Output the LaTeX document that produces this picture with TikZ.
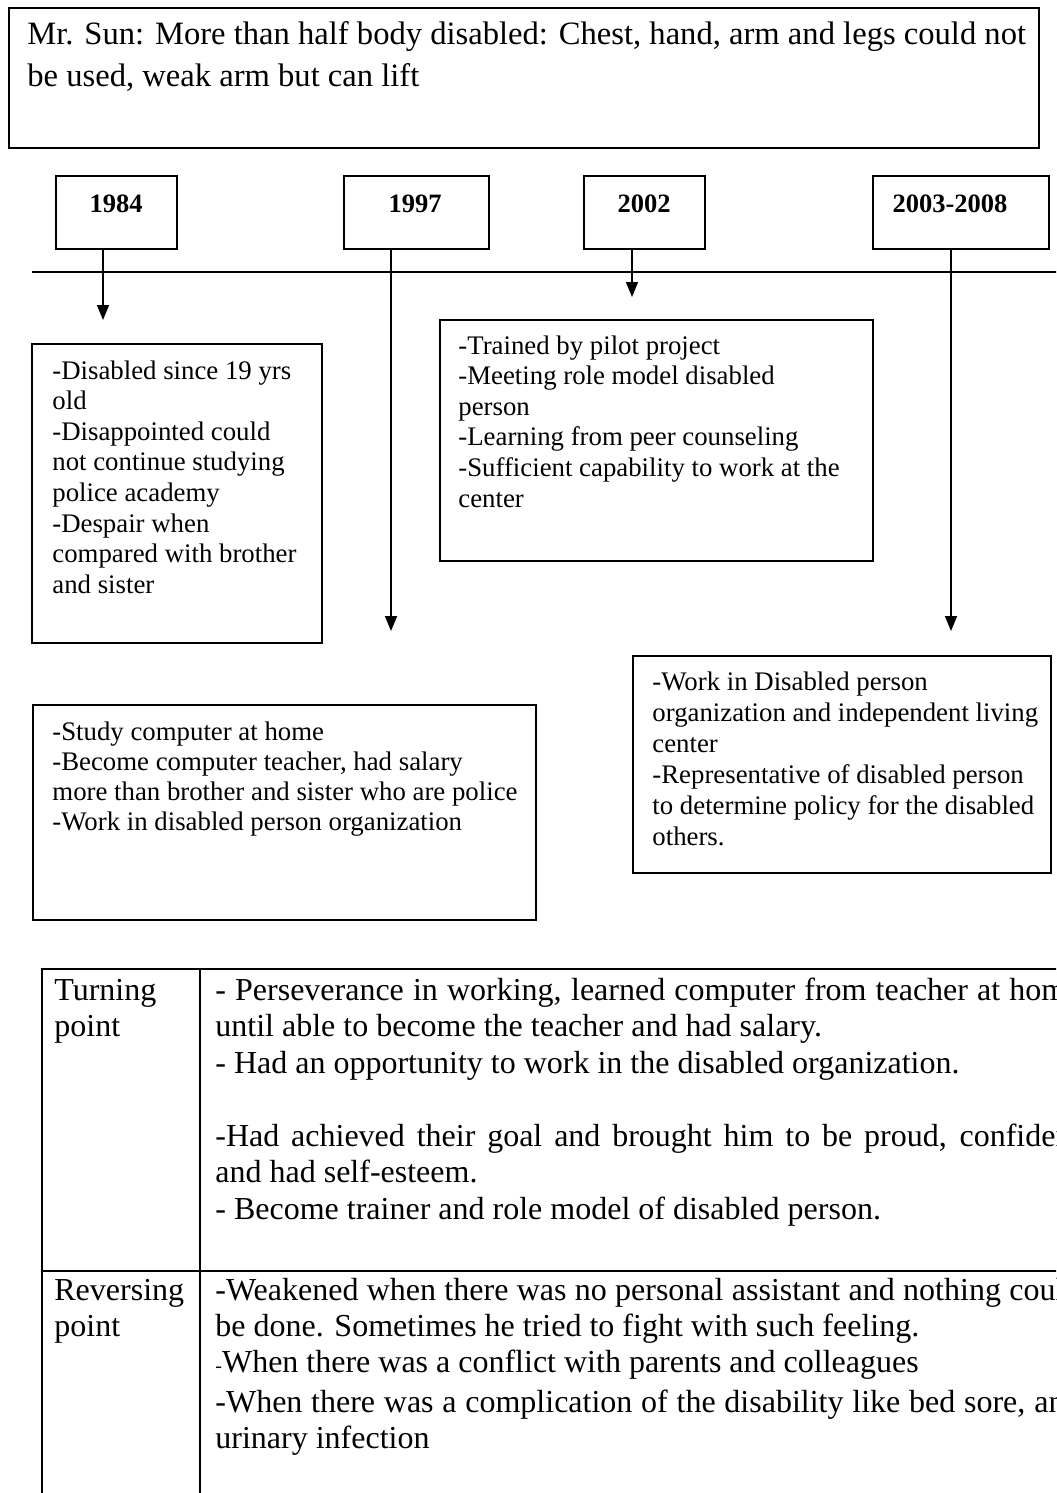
\documentclass[tikz,border=0pt]{standalone}
\usepackage{fontspec}
\setmainfont{Liberation Serif}
\usetikzlibrary{arrows.meta}

\newcommand\headfont{\fontsize{16.3pt}{19.5pt}\selectfont}
\newcommand\notefont{\fontsize{13.4pt}{15.3pt}\selectfont}
\newcommand\cellfont{\fontsize{16pt}{18.3pt}\selectfont}
\newcommand\yearfont{\bfseries\fontsize{13.25pt}{15pt}\selectfont}
% a justified line of the right table column
\newcommand\fullline[1]{\hbox to 432.5pt{#1}}

\tikzset{
  frame/.style={draw, line width=0.8pt, inner sep=0pt, anchor=north west},
  pointer/.style={line width=0.8pt, -{Triangle[length=7.5pt,width=6pt]}},
  axis/.style={line width=0.8pt},
  grid/.style={line width=1pt},
  headline/.style={font=\headfont, anchor=base west, inner sep=0pt},
  noteline/.style={font=\notefont, anchor=base west, inner sep=0pt},
  cellline/.style={font=\cellfont, anchor=base west, inner sep=0pt},
  yearlabel/.style={font=\yearfont, anchor=base, inner sep=0pt},
}

\begin{document}
\begin{tikzpicture}[x=0.5pt,y=-0.5pt]
\useasboundingbox (0,0) rectangle (1056,1493);
\clip (0,0) rectangle (1056,1493);

% ---------- header ----------
\node[frame, minimum width=515pt, minimum height=70pt] (head) at (8,7) {};
\node[headline] (head-1) at (27,45) {Mr. Sun: More than half body disabled: Chest, hand, arm and legs could not};
\node[headline] (head-2) at (27,87) {be used, weak arm but can lift};

% ---------- year boxes ----------
\node[frame, minimum width=60.5pt, minimum height=36.5pt] (y84) at (55,175) {};
\node[frame, minimum width=72.5pt, minimum height=36.5pt] (y97) at (343,175) {};
\node[frame, minimum width=60.5pt, minimum height=36.5pt] (y02) at (583,175) {};
\node[frame, minimum width=88pt,   minimum height=36.5pt] (y03) at (872,175) {};
\node[yearlabel] (y84-t) at (116,212) {1984};
\node[yearlabel] (y97-t) at (415,212) {1997};
\node[yearlabel] (y02-t) at (644,212) {2002};
\node[yearlabel] (y03-t) at (950,212) {2003-2008};

% ---------- time axis ----------
\coordinate (axisL) at (32,272);
\coordinate (axisR) at (1060,272);
\draw[axis] (axisL) -- (axisR);

% ---------- pointers ----------
\coordinate (tip84) at (103,320);
\coordinate (tip97) at (391,631);
\coordinate (tip02) at (632,297);
\coordinate (tip03) at (951,631);
\draw[pointer] (tip84 |- y84.south) -- (tip84);
\draw[pointer] (tip97 |- y97.south) -- (tip97);
\draw[pointer] (tip02 |- y02.south) -- (tip02);
\draw[pointer] (tip03 |- y03.south) -- (tip03);

% ---------- event notes ----------
\node[frame, minimum width=145pt, minimum height=149.5pt] (b84) at (31,343) {};
\foreach \t [count=\i from 0] in {{-Disabled since 19 yrs},{old},{-Disappointed could},
  {not continue studying},{police academy},{-Despair when},{compared with brother},{and sister}}
  \node[noteline] (b84-\i) at (52,379+30.6*\i) {\t};

\node[frame, minimum width=216.5pt, minimum height=120.5pt] (b02) at (439,319) {};
\foreach \t [count=\i from 0] in {{-Trained by pilot project},{-Meeting role model disabled},
  {person},{-Learning from peer counseling},{-Sufficient capability to work at the},{center}}
  \node[noteline] (b02-\i) at (458,354+30.6*\i) {\t};

\node[frame, minimum width=251.5pt, minimum height=107.5pt] (b97) at (32,704) {};
\foreach \t [count=\i from 0] in {{-Study computer at home},{-Become computer teacher, had salary},
  {more than brother and sister who are police},{-Work in disabled person organization}}
  \node[noteline] (b97-\i) at (52,740+30.3*\i) {\t};

\node[frame, minimum width=209pt, minimum height=108.5pt] (b03) at (632,655) {};
\foreach \t [count=\i from 0] in {{-Work in Disabled person},{organization and independent living},
  {center},{-Representative of disabled person},{to determine policy for the disabled},{others.}}
  \node[noteline] (b03-\i) at (652,690+31*\i) {\t};

% ---------- turning / reversing table ----------
\coordinate (tabNW) at (42,969);
\coordinate (tabNE) at (1060,969);
\coordinate (tabSW) at (42,1500);
\coordinate (colN) at (200,969);
\coordinate (colS) at (200,1500);
\coordinate (rowW) at (42,1271);
\coordinate (rowE) at (1060,1271);
\draw[grid] (tabNE) -- (tabNW) -- (tabSW);
\draw[grid] (colN) -- (colS);
\draw[grid] (rowW) -- (rowE);

\node[cellline] (c-turn-1) at (54,1000) {Turning};
\node[cellline] (c-turn-2) at (54,1036) {point};
\node[cellline] (r1-0) at (215,1000) {\fullline{- Perseverance in working, learned computer from teacher at home}};
\node[cellline] (r1-1) at (215,1036) {until able to become the teacher and had salary.};
\node[cellline] (r1-2) at (215,1073) {- Had an opportunity to work in the disabled organization.};
\node[cellline] (r1-4) at (215,1146) {\fullline{-Had achieved their goal and brought him to be proud, confident}};
\node[cellline] (r1-5) at (215,1182) {and had self-esteem.};
\node[cellline] (r1-6) at (215,1219) {- Become trainer and role model of disabled person.};

\node[cellline] (c-rev-1) at (54,1300) {Reversing};
\node[cellline] (c-rev-2) at (54,1336) {point};
\node[cellline] (r2-0) at (215,1300) {\fullline{-Weakened when there was no personal assistant and nothing could}};
\node[cellline] (r2-1) at (215,1336) {be done. Sometimes he tried to fight with such feeling.};
\node[cellline] (r2-2) at (215,1372) {{\fontsize{10pt}{12pt}\selectfont -}When there was a conflict with parents and colleagues};
\node[cellline] (r2-3) at (215,1412) {\fullline{-When there was a complication of the disability like bed sore, and}};
\node[cellline] (r2-4) at (215,1448) {urinary infection};
\end{tikzpicture}
\end{document}
